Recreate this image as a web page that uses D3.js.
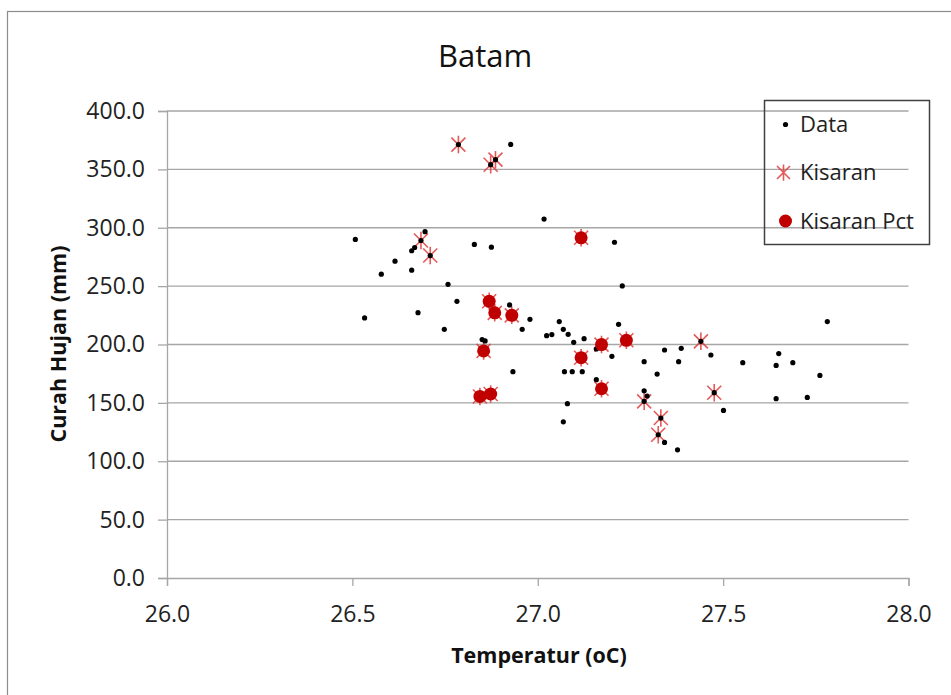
<!DOCTYPE html>
<html>
<head>
<meta charset="utf-8">
<script src="https://cdn.jsdelivr.net/npm/d3@7/dist/d3.min.js"></script>
<style>
  html, body { margin: 0; padding: 0; background: #fff; }
  svg { display: block; font-family: "Open Sans", "Noto Sans", sans-serif; }
</style>
</head>
<body>
<svg id="chart" width="951" height="695"></svg>
<script>
// ---- Data ----
const dataX = [26.508,26.533,26.578,26.615,26.660,26.660,26.668,26.677,26.685,26.696,26.710,26.748,26.758,26.782,26.786,26.829,26.844,26.850,26.854,26.858,26.869,26.873,26.873,26.875,26.884,26.886,26.924,26.927,26.930,26.933,26.958,26.979,27.017,27.024,27.038,27.058,27.069,27.069,27.072,27.080,27.082,27.093,27.097,27.117,27.117,27.120,27.125,27.158,27.158,27.172,27.172,27.200,27.207,27.218,27.228,27.239,27.287,27.287,27.295,27.287,27.322,27.325,27.332,27.342,27.342,27.377,27.380,27.387,27.440,27.467,27.476,27.501,27.553,27.643,27.643,27.650,27.688,27.727,27.761,27.781];
const dataY = [290.0,222.8,260.2,271.4,263.7,280.3,283.1,227.3,289.1,296.6,276.2,213.0,251.5,237.0,371.2,285.7,155.5,204.2,194.5,203.1,237.0,354.0,157.6,283.4,227.1,358.3,233.9,371.4,225.0,176.7,213.0,221.6,307.4,207.6,208.5,219.6,213.0,133.8,176.7,149.3,208.7,176.7,201.9,291.4,188.7,176.7,205.0,196.2,169.9,199.9,162.1,189.9,287.6,217.3,250.2,203.6,185.3,160.4,155.9,151.3,174.7,122.7,137.0,195.3,116.1,109.8,185.3,196.7,202.7,191.0,158.7,143.5,184.4,182.1,153.6,192.2,184.4,154.7,173.5,219.6];

const kisaranX = [26.685,26.710,26.786,26.873,26.886,27.287,27.325,27.332,27.440,27.476,26.844,26.854,26.869,26.873,26.884,26.930,27.117,27.117,27.172,27.172,27.239];
const kisaranY = [289.1,276.2,371.2,354.0,358.3,151.3,122.7,137.0,202.7,158.7,155.5,194.5,237.0,157.6,227.1,225.0,291.4,188.7,199.9,162.1,203.6];

const pctX = [26.844,26.854,26.869,26.873,26.884,26.930,27.117,27.117,27.172,27.172,27.239];
const pctY = [155.5,194.5,237.0,157.6,227.1,225.0,291.4,188.7,199.9,162.1,203.6];

const xTicks = [26.0,26.5,27.0,27.5,28.0];
const yTicks = [0,50,100,150,200,250,300,350,400];
const seriesNames = ["Data","Kisaran","Kisaran Pct"];

// ---- Layout ----
const svg = d3.select("#chart");
const L = 167, R = 908.5, T = 111, B = 578;
const x = d3.scaleLinear().domain([26,28]).range([L,R]);
const y = d3.scaleLinear().domain([0,400]).range([B,T]);

const red = "#c00000";
const starColor = "#e03c3c";

// outer frame
svg.append("rect").attr("x",7.5).attr("y",11.5).attr("width",960).attr("height",700)
  .attr("fill","none").attr("stroke","#8c8c8c").attr("stroke-width",1.2);

// gridlines
svg.append("g").selectAll("line").data(yTicks.filter(d=>d>0)).join("line")
  .attr("x1",L).attr("x2",R).attr("y1",d=>y(d)).attr("y2",d=>y(d))
  .attr("stroke","#a6a6a6").attr("stroke-width",1.3);

// y axis
const yAxis = d3.axisLeft(y).tickValues(yTicks).tickFormat(d3.format(".1f")).tickSize(9).tickPadding(13);
const gy = svg.append("g").attr("transform",`translate(${L},0)`).call(yAxis);
// x axis
const xAxis = d3.axisBottom(x).tickValues(xTicks).tickFormat(d3.format(".1f")).tickSize(8).tickPadding(20);
const gx = svg.append("g").attr("transform",`translate(0,${B})`).call(xAxis);

[gx, gy].forEach(g=>{
  g.select(".domain").attr("stroke","#a6a6a6").attr("stroke-width",1.3);
  g.selectAll(".tick line").attr("stroke","#a6a6a6").attr("stroke-width",1.3);
  g.selectAll(".tick text").attr("fill","#222").attr("font-size",23)
    .attr("font-family","'Open Sans', 'Noto Sans', sans-serif");
});

function starPath(cx, cy, s){
  return `M${cx-s},${cy-s}L${cx+s},${cy+s}M${cx-s},${cy+s}L${cx+s},${cy-s}M${cx},${cy-s*1.25}L${cx},${cy+s*1.25}`;
}

// Kisaran stars
svg.append("g").selectAll("path").data(d3.range(kisaranX.length)).join("path")
  .attr("d", i => starPath(x(kisaranX[i]), y(kisaranY[i]), 7))
  .attr("stroke", starColor).attr("stroke-width",1.6).attr("fill","none").attr("opacity",0.85);

// Data dots
svg.append("g").selectAll("circle").data(d3.range(dataX.length)).join("circle")
  .attr("cx", i=>x(dataX[i])).attr("cy", i=>y(dataY[i])).attr("r",2.6)
  .attr("fill","#000");

// Pct circles
svg.append("g").selectAll("circle").data(d3.range(pctX.length)).join("circle")
  .attr("cx", i=>x(pctX[i])).attr("cy", i=>y(pctY[i])).attr("r",6.5)
  .attr("fill", red);

// Title
svg.append("text").attr("x",485).attr("y",67).attr("text-anchor","middle")
  .attr("font-size",31).attr("fill","#111").text("Batam");

// Axis titles
svg.append("text").attr("x",539).attr("y",663).attr("text-anchor","middle")
  .attr("font-size",21.5).attr("font-weight","bold").attr("fill","#111").text("Temperatur (oC)");
svg.append("text").attr("transform","translate(66,344) rotate(-90)").attr("text-anchor","middle")
  .attr("font-size",21.5).attr("font-weight","bold").attr("fill","#111").text("Curah Hujan (mm)");

// Legend
const lg = svg.append("g");
lg.append("rect").attr("x",764.5).attr("y",100.5).attr("width",165).attr("height",144)
  .attr("fill","none").attr("stroke","#404040").attr("stroke-width",1.5);
const rowsY = [124.5, 172.5, 221];
const lx = 785.5;
lg.append("circle").attr("cx",lx).attr("cy",rowsY[0]).attr("r",2.6).attr("fill","#000");
lg.append("path").attr("d", starPath(lx-2, rowsY[1], 6.5)).attr("stroke",starColor)
  .attr("stroke-width",1.6).attr("fill","none").attr("opacity",0.85);
lg.append("circle").attr("cx",lx).attr("cy",rowsY[2]).attr("r",6.5).attr("fill",red);
lg.selectAll("text.leg").data(seriesNames).join("text").attr("class","leg")
  .attr("x",800).attr("y",(d,i)=>rowsY[i]).attr("dy","0.36em")
  .attr("font-size",22).attr("fill","#222").text(d=>d);
</script>
</body>
</html>
